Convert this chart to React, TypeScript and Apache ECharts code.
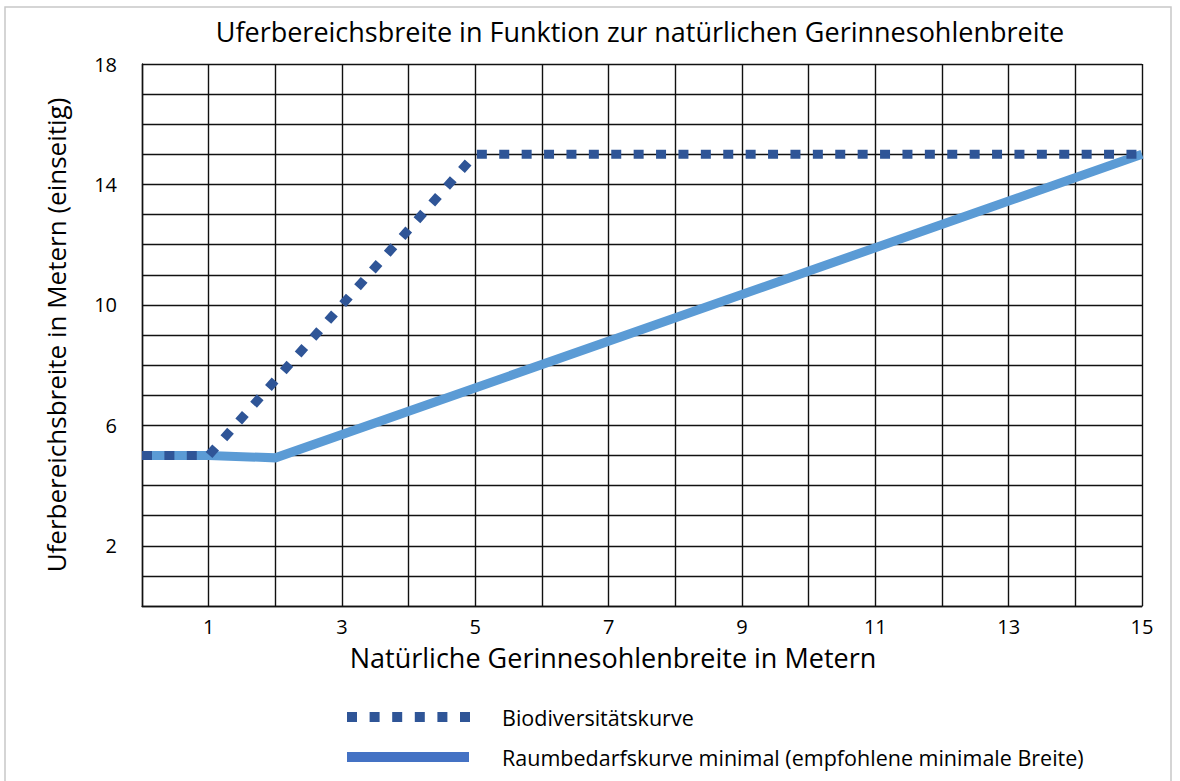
import React, { useEffect, useRef } from "react";
import * as echarts from "echarts";

const titleText = "Uferbereichsbreite in Funktion zur natürlichen Gerinnesohlenbreite";
const xAxisName = "Natürliche Gerinnesohlenbreite in Metern";
const yAxisName = "Uferbereichsbreite in Metern (einseitig)";
const seriesNames = ["Biodiversitätskurve", "Raumbedarfskurve minimal (empfohlene minimale Breite)"];

const bioX = [0, 1, 5, 15];
const bioY = [5, 5, 15, 15];
const raumX = [0, 1, 2, 15];
const raumY = [5, 5, 4.92, 15];

const xLabelValues = [1, 3, 5, 7, 9, 11, 13, 15];
const yLabelValues = [2, 6, 10, 14, 18];

const FONT = "'Open Sans', sans-serif";

export default function App() {
  const ref = useRef<HTMLDivElement>(null);
  useEffect(() => {
    document.body.style.margin = "0";
    const chart = echarts.init(ref.current!, undefined, { renderer: "svg" });
    const bioData = bioX.map((x, i) => [x, bioY[i]]);
    const raumData = raumX.map((x, i) => [x, raumY[i]]);
    chart.setOption({
      animation: false,
      backgroundColor: "#ffffff",
      grid: { left: 142, right: 38, top: 64, bottom: 175, containLabel: false },
      xAxis: {
        type: "value",
        min: 0,
        max: 15,
        interval: 1,
        name: xAxisName,
        nameLocation: "middle",
        nameGap: 38,
        nameTextStyle: { fontFamily: FONT, fontSize: 27, color: "#000", padding: [0, 58, 0, 0] },
        axisLine: { show: true, lineStyle: { color: "#111", width: 1.4 } },
        axisTick: { show: false },
        axisLabel: {
          fontFamily: FONT,
          fontSize: 20,
          color: "#000",
          margin: 10,
          formatter: (v: number) => (xLabelValues.includes(v) ? String(v) : ""),
        },
        splitLine: { show: true, lineStyle: { color: "#111", width: 1.4 } },
      },
      yAxis: {
        type: "value",
        min: 0,
        max: 18,
        interval: 1,
        name: yAxisName,
        nameLocation: "middle",
        nameGap: 73,
        nameTextStyle: { fontFamily: FONT, fontSize: 26, color: "#000" },
        axisLine: { show: true, lineStyle: { color: "#111", width: 1.4 } },
        axisTick: { show: false },
        axisLabel: {
          fontFamily: FONT,
          fontSize: 20,
          color: "#000",
          margin: 25,
          formatter: (v: number) => (yLabelValues.includes(v) ? String(v) : ""),
        },
        splitLine: { show: true, lineStyle: { color: "#111", width: 1.4 } },
      },
      series: [
        {
          name: seriesNames[1],
          type: "line",
          data: raumData,
          showSymbol: false,
          lineStyle: { color: "#5B9BD5", width: 9, cap: "butt", join: "miter" },
          z: 2,
        },
        {
          name: seriesNames[0],
          type: "line",
          data: bioData,
          showSymbol: false,
          lineStyle: { color: "#2F5597", width: 9, type: [10, 12.4], cap: "butt", join: "miter" },
          z: 3,
        },
      ],
      graphic: [
        {
          type: "rect",
          shape: { x: 5, y: 7, width: 1166, height: 790 },
          style: { fill: "none", stroke: "#C8C8C8", lineWidth: 1.5 },
          silent: true,
        },
        {
          type: "text",
          x: 640,
          y: 31,
          style: {
            text: titleText,
            fontFamily: FONT,
            fontSize: 27,
            fill: "#000",
            align: "center",
            verticalAlign: "middle",
          },
        },
        {
          type: "line",
          shape: { x1: 347, y1: 717, x2: 470, y2: 717 },
          style: { stroke: "#2F5597", lineWidth: 10, lineDash: [10, 12.6] },
        },
        {
          type: "text",
          x: 502,
          y: 717,
          style: { text: seriesNames[0], fontFamily: FONT, fontSize: 21.5, fill: "#000", verticalAlign: "middle" },
        },
        {
          type: "line",
          shape: { x1: 347, y1: 757, x2: 469, y2: 757 },
          style: { stroke: "#4472C4", lineWidth: 10 },
        },
        {
          type: "text",
          x: 502,
          y: 757,
          style: { text: seriesNames[1], fontFamily: FONT, fontSize: 21.5, fill: "#000", verticalAlign: "middle" },
        },
      ],
    });
    return () => chart.dispose();
  }, []);
  return <div ref={ref} style={{ position: "absolute", left: 0, top: 0, width: 1180, height: 781 }} />;
}
